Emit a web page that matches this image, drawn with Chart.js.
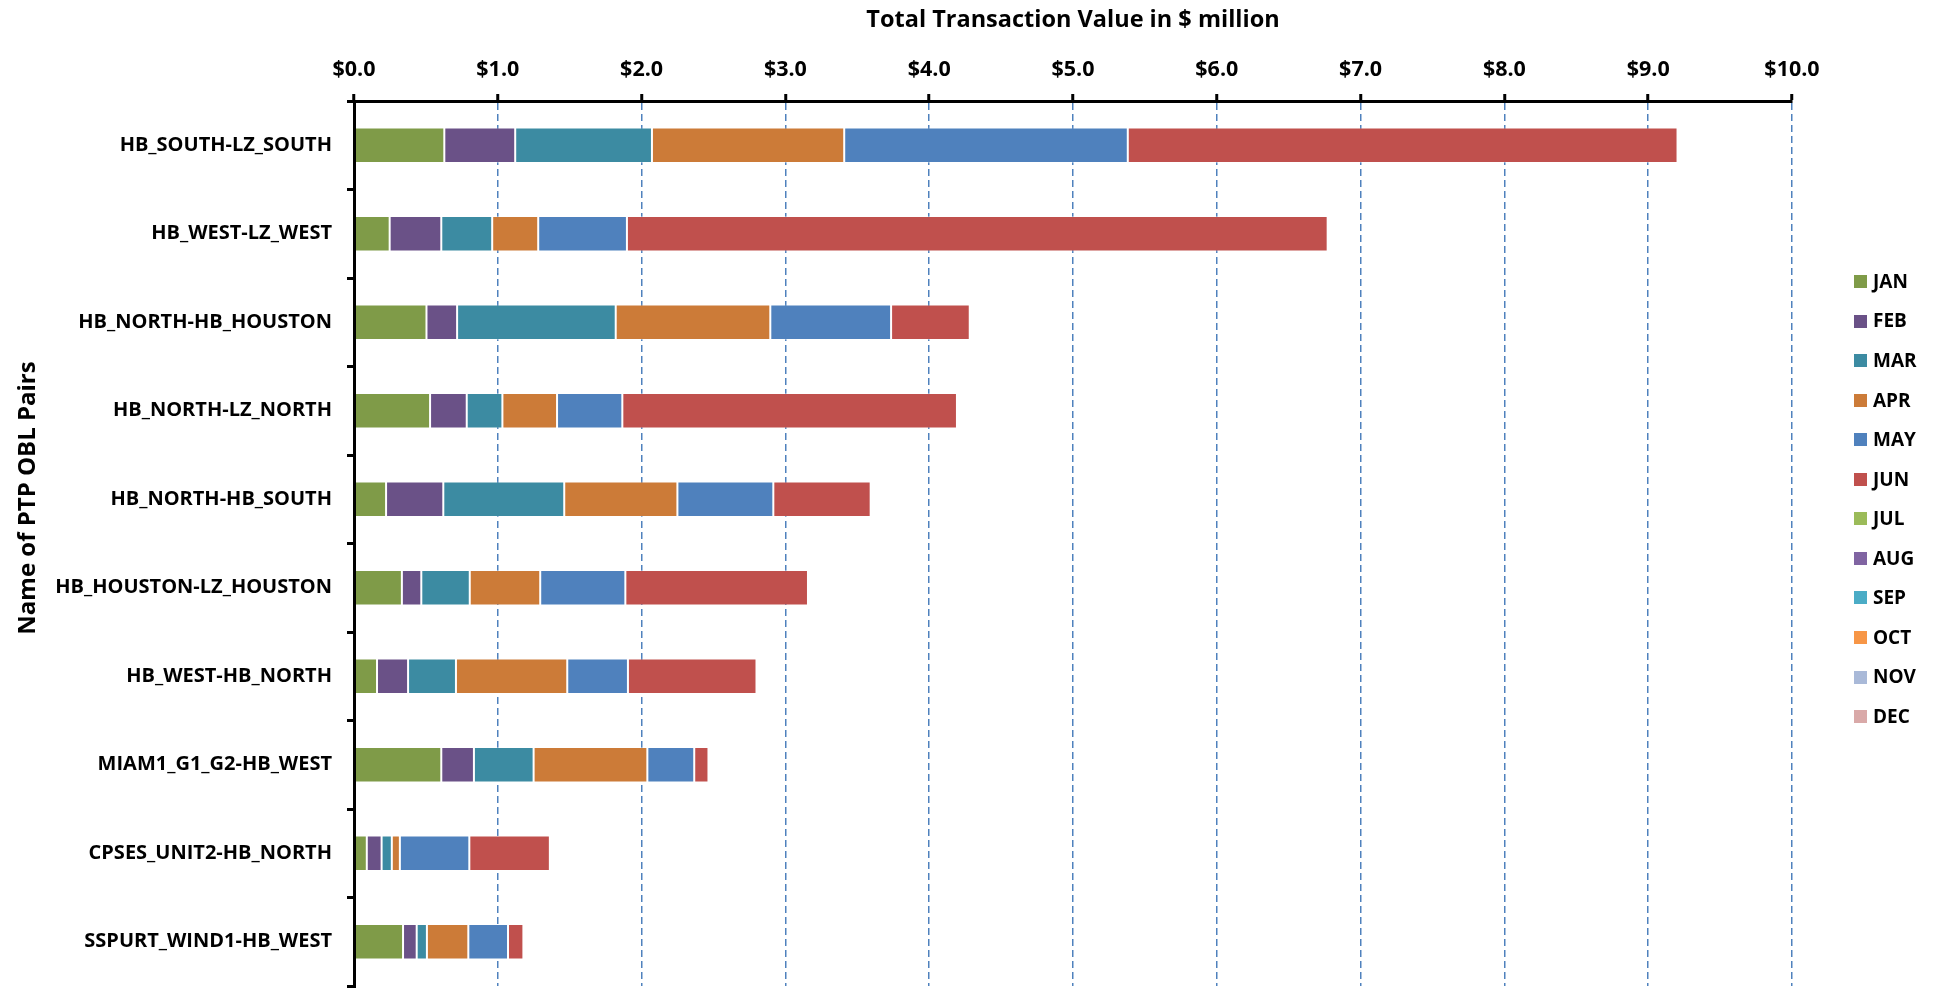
<!DOCTYPE html>
<html>
<head>
<meta charset="utf-8">
<script src="https://cdn.jsdelivr.net/npm/chart.js@4.4.1/dist/chart.umd.min.js"></script>
<style>
  html, body { margin: 0; padding: 0; background: #ffffff; overflow: hidden; }
  #wrap { width: 1943px; height: 988px; }
</style>
</head>
<body>
<div id="wrap"><canvas id="c" width="1943" height="988"></canvas></div>
<script>
// ---------------- DATA ----------------
const pairs = [
  'HB_SOUTH-LZ_SOUTH',
  'HB_WEST-LZ_WEST',
  'HB_NORTH-HB_HOUSTON',
  'HB_NORTH-LZ_NORTH',
  'HB_NORTH-HB_SOUTH',
  'HB_HOUSTON-LZ_HOUSTON',
  'HB_WEST-HB_NORTH',
  'MIAM1_G1_G2-HB_WEST',
  'CPSES_UNIT2-HB_NORTH',
  'SSPURT_WIND1-HB_WEST'
];
const months = ['JAN','FEB','MAR','APR','MAY','JUN','JUL','AUG','SEP','OCT','NOV','DEC'];

// $ million per pair, in the order of `pairs`
const jan = [0.628, 0.248, 0.504, 0.529, 0.223, 0.333, 0.160, 0.607, 0.089, 0.341];
const feb = [0.493, 0.359, 0.213, 0.255, 0.398, 0.135, 0.216, 0.227, 0.103, 0.095];
const mar = [0.951, 0.354, 1.103, 0.248, 0.841, 0.337, 0.333, 0.415, 0.071, 0.071];
const apr = [1.337, 0.320, 1.075, 0.380, 0.787, 0.490, 0.774, 0.791, 0.056, 0.288];
const may = [1.972, 0.617, 0.840, 0.454, 0.667, 0.592, 0.422, 0.326, 0.483, 0.276];
const jun = [3.823, 4.873, 0.547, 2.327, 0.677, 1.270, 0.894, 0.099, 0.560, 0.107];
const jul = [0, 0, 0, 0, 0, 0, 0, 0, 0, 0];
const aug = [0, 0, 0, 0, 0, 0, 0, 0, 0, 0];
const sep = [0, 0, 0, 0, 0, 0, 0, 0, 0, 0];
const oct = [0, 0, 0, 0, 0, 0, 0, 0, 0, 0];
const nov = [0, 0, 0, 0, 0, 0, 0, 0, 0, 0];
const dec = [0, 0, 0, 0, 0, 0, 0, 0, 0, 0];

const xTicks = [0, 1, 2, 3, 4, 5, 6, 7, 8, 9, 10];
const xTitle = 'Total Transaction Value in $ million';
const yTitle = 'Name of PTP OBL Pairs';

// ---------------- STYLE ----------------
const colors = ['#7F9B48', '#6A5187', '#3C8BA2', '#CC7B38', '#4F81BD', '#C0504D',
                '#9BBB59', '#8064A2', '#4BACC6', '#F79646', '#A9B9D8', '#D9A9A8'];
const FONT = '"Open Sans", "DejaVu Sans", sans-serif';
const seriesValues = [jan, feb, mar, apr, may, jun, jul, aug, sep, oct, nov, dec];

const datasets = months.map((m, i) => ({
  label: m,
  data: seriesValues[i],
  backgroundColor: colors[i],
  borderColor: 'rgba(255,255,255,0.35)',
  borderWidth: 1,
  borderSkipped: false,
  barPercentage: 0.4,
  categoryPercentage: 1.0
}));

// custom legend + rotated y title positioned as in reference
const extras = {
  id: 'extras',
  afterDraw(chart) {
    const ctx = chart.ctx;
    ctx.save();
    // legend
    ctx.font = 'bold 19px ' + FONT;
    ctx.textBaseline = 'middle';
    ctx.textAlign = 'left';
    chart.data.datasets.forEach((ds, i) => {
      const y = 281.5 + i * 39.55;
      ctx.fillStyle = ds.backgroundColor;
      ctx.fillRect(1854, Math.round(y - 6.5), 13, 13);
      ctx.fillStyle = '#000000';
      ctx.fillText(ds.label, 1873, y + 1);
    });
    // y-axis title
    ctx.translate(28, 498);
    ctx.rotate(-Math.PI / 2);
    ctx.font = 'bold 24px ' + FONT;
    ctx.textAlign = 'center';
    ctx.textBaseline = 'middle';
    ctx.fillStyle = '#000000';
    ctx.fillText(yTitle, 0, 0);
    ctx.restore();
  }
};

function build() {
  new Chart(document.getElementById('c'), {
    type: 'bar',
    data: { labels: pairs, datasets: datasets },
    options: {
      indexAxis: 'y',
      responsive: false,
      animation: false,
      devicePixelRatio: 1,
      layout: { padding: { left: 0, right: 151, top: 0, bottom: 2 } },
      plugins: {
        legend: { display: false },
        tooltip: { enabled: false },
        title: { display: false }
      },
      scales: {
        x: {
          position: 'top',
          stacked: true,
          min: 0,
          max: 10,
          afterBuildTicks(scale) { scale.ticks = xTicks.map(v => ({ value: v })); },
          afterFit(scale) { scale.height = 101; },
          ticks: {
            padding: 11,
            color: '#000000',
            font: { family: FONT, size: 21.5, weight: 'bold' },
            callback: (v) => '$' + Number(v).toFixed(1)
          },
          grid: {
            display: true,
            drawOnChartArea: true,
            drawTicks: true,
            tickLength: 7,
            color: (ctx) => (ctx.tick && ctx.tick.value === 0) ? 'rgba(0,0,0,0)' : '#4F81BD',
            lineWidth: 1.5,
            tickColor: '#000000',
            tickWidth: 3,
            tickBorderDash: [0, 0]
          },
          border: { display: true, color: '#000000', width: 3, dash: [7, 4], z: 1 },
          title: {
            display: true,
            text: xTitle,
            color: '#000000',
            font: { family: FONT, size: 23.5, weight: 'bold' },
            padding: { top: 6, bottom: 0 }
          }
        },
        y: {
          stacked: true,
          afterFit(scale) {
            scale.width = 354;
            scale.paddingTop = 0;
            scale.paddingBottom = 0;
          },
          ticks: {
            padding: 15,
            color: '#000000',
            font: { family: FONT, size: 20, weight: 'bold' }
          },
          grid: {
            display: true,
            drawOnChartArea: false,
            drawTicks: true,
            tickLength: 7,
            offset: true,
            color: '#000000',
            tickColor: '#000000',
            tickWidth: 3,
            lineWidth: 3
          },
          border: { display: true, color: '#000000', width: 3, z: 1 },
          title: { display: false }
        }
      }
    },
    plugins: [extras]
  });
}

if (document.fonts && document.fonts.load) {
  Promise.all([
    document.fonts.load('bold 20px "Open Sans"'),
    document.fonts.load('bold 19px "Open Sans"')
  ]).then(build, build);
} else {
  build();
}
</script>
</body>
</html>
